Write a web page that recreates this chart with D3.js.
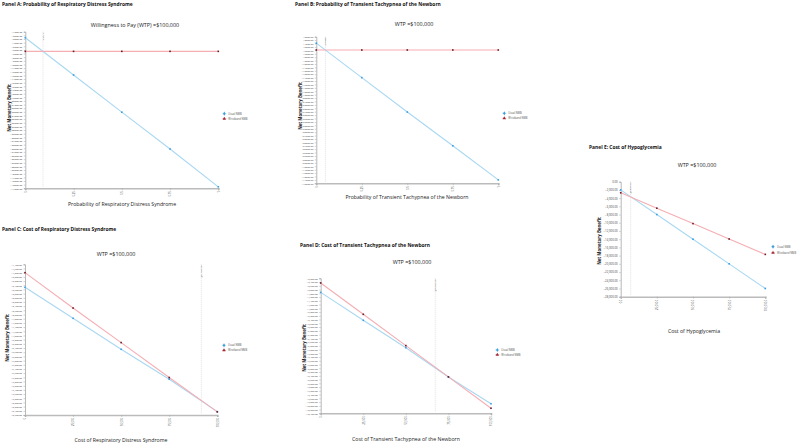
<!DOCTYPE html>
<html><head><meta charset="utf-8">
<script src="https://cdn.jsdelivr.net/npm/d3@7"></script>
<style>body{margin:0;background:#fff}svg{display:block}text{font-family:"Open Sans",Arial,sans-serif}</style>
</head><body><svg id="c" width="800" height="444"></svg>
<script>
// ---------- data ----------
const seriesNames = ["Usual NMB", "Wristband NMB"];
const probTicks = [0, 0.25, 0.5, 0.75, 1];
const probTickLabels = ["0", "0.25", "0.5", "0.75", "1"];
const costTicks = [0, 25000, 50000, 75000, 100000];
const costTickLabels = ["0", "25,000", "50,000", "75,000", "100,000"];
const costTickLabelsE = ["0.0", "25,000.0", "50,000.0", "75,000.0", "100,000.0"];

const titles = ["Panel A: Probability of Respiratory Distress Syndrome",
  "Panel B: Probability of Transient Tachypnea of the Newborn",
  "Panel C: Cost of Respiratory Distress Syndrome",
  "Panel D: Cost of Transient Tachypnea of the Newborn",
  "Panel E: Cost of Hypoglycemia"];
const subtitles = ["Willingness to Pay (WTP) =$100,000", "WTP =$100,000", "WTP =$100,000", "WTP =$100,000", "WTP =$100,000"];
const xLabels = ["Probability of Respiratory Distress Syndrome",
  "Probability of Transient Tachypnea of the Newborn",
  "Cost of Respiratory Distress Syndrome",
  "Cost of Transient Tachypnea of the Newborn",
  "Cost of Hypoglycemia"];
const yLabel = "Net Monetary Benefit";

const aUsual = [-2650, -12900, -23100, -33200, -43600];
const aWrist = [-6400, -6400, -6400, -6400, -6400];
const aThreshold = 0.0916;
const aThresholdLabel = "0.0916";
const aYTicks = d3.range(-1000, -44001, -1000);

const bUsual = [-3900, -14000, -24100, -34000, -44000];
const bWrist = [-5900, -5900, -5900, -5900, -5900];
const bThreshold = 0.05;
const bThresholdLabel = "0.0499";
const bYTicks = d3.range(-2000, -45001, -1000);

const cUsual = [-2500, -3980, -5460, -6890, -8440];
const cWrist = [-1800, -3490, -5140, -6810, -8450];
const cThreshold = 91700;
const cThresholdLabel = "$91,667.00";
const cYTicks = d3.range(-1400, -8601, -200);

const dUsual = [-3950, -5440, -6900, -8460, -9890];
const dWrist = [-3450, -5120, -6790, -8460, -10130];
const dThreshold = 67300;
const dThresholdLabel = "$67,567.00";
const dYTicks = d3.range(-3200, -10401, -200);

const eUsual = [-2000, -8000, -14000, -20000, -26000];
const eWrist = [-2700, -6450, -10200, -13950, -17700];
const eThreshold = 6900;
const eThresholdLabel = "$6,900.00";
const eYTicks = d3.range(0, -28001, -2000);

// ---------- drawing ----------
const svg = d3.select("#c");
const BLUE_LINE = "#a9d8f2", BLUE_PT = "#3b9ee0", RED_LINE = "#f5aeb3", RED_PT = "#6b1a24";
const fmtPlain = d3.format(".2f");
const fmtComma = d3.format(",.2f");

function panel(cfg) {
  const g = svg.append("g");
  const x = d3.scaleLinear().domain([cfg.xTicks[0], cfg.xTicks[cfg.xTicks.length - 1]]).range([cfg.l, cfg.r]);
  const y = d3.scaleLinear().domain([cfg.yTicks[0], cfg.yTicks[cfg.yTicks.length - 1]]).range([cfg.t, cfg.b]);

  g.append("text").attr("x", cfg.titleX).attr("y", cfg.titleY).attr("font-size", 4.9).attr("font-weight", "bold").attr("fill", "#111").text(cfg.title);
  g.append("text").attr("x", cfg.subX).attr("y", cfg.subY).attr("font-size", 5.4).attr("text-anchor", "middle").attr("fill", "#222").text(cfg.subtitle);

  const ya = d3.axisLeft(y).tickValues(cfg.yTicks).tickSize(1.5).tickPadding(1.5).tickFormat(cfg.yFmt);
  const yg = g.append("g").attr("transform", `translate(${cfg.l},0)`).call(ya);
  yg.select(".domain").attr("stroke", "#888").attr("stroke-width", 0.6);
  yg.selectAll(".tick line").attr("stroke", "#888").attr("stroke-width", 0.4);
  yg.selectAll(".tick text").attr("font-size", cfg.yFont).attr("fill", "#444").attr("font-family", "Open Sans, Arial");

  const xa = d3.axisBottom(x).tickValues(cfg.xTicks).tickSize(2).tickFormat((d, i) => cfg.xTickLabels[i]);
  const xg = g.append("g").attr("transform", `translate(0,${cfg.b})`).call(xa);
  xg.select(".domain").attr("stroke", "#bbb").attr("stroke-width", 1.6);
  xg.selectAll(".tick line").attr("stroke", "#999").attr("stroke-width", 0.4);
  xg.selectAll(".tick text").attr("font-size", 2.6).attr("fill", "#444")
    .attr("transform", "rotate(-90)").attr("text-anchor", "end").attr("dy", "0.35em").attr("x", -3).attr("y", 0);

  g.append("text").attr("x", cfg.xLabelX).attr("y", cfg.xLabelY).attr("font-size", 5.2).attr("text-anchor", "middle").attr("fill", "#222").text(cfg.xLabel);
  g.append("text").attr("transform", `translate(${cfg.yLabelX},${cfg.yLabelY}) rotate(-90)`).attr("font-size", 4.4).attr("font-weight", "bold").attr("text-anchor", "middle").attr("fill", "#222").text(yLabel);

  const tx = x(cfg.threshold);
  g.append("line").attr("x1", tx).attr("x2", tx).attr("y1", cfg.t).attr("y2", cfg.b - 1).attr("stroke", "#ccc").attr("stroke-width", 0.6).attr("stroke-dasharray", "1,1");
  g.append("text").attr("transform", `translate(${tx + 0.8},${cfg.t + 1}) rotate(-90)`).attr("font-size", 2.4).attr("text-anchor", "end").attr("fill", "#555").text(cfg.thresholdLabel);

  const line = d3.line().x((d, i) => x(cfg.xTicks[i])).y(d => y(d));
  const order = [[cfg.usual, BLUE_LINE, BLUE_PT], [cfg.wrist, RED_LINE, RED_PT]];
  order.forEach(([vals, lc]) => {
    g.append("path").datum(vals).attr("d", line).attr("fill", "none").attr("stroke", lc).attr("stroke-width", 1.1);
  });
  order.forEach(([vals, lc, pc]) => {
    g.selectAll(null).data(vals).enter().append("rect")
      .attr("x", (d, i) => x(cfg.xTicks[i]) - 0.8).attr("y", d => y(d) - 0.8)
      .attr("width", 1.6).attr("height", 1.6).attr("fill", pc);
  });

  const lg = g.append("g").attr("transform", `translate(${cfg.legX},${cfg.legY})`);
  lg.append("line").attr("x1", -2).attr("x2", 2).attr("y1", 0).attr("y2", 0).attr("stroke", BLUE_LINE).attr("stroke-width", 1);
  lg.append("path").attr("d", d3.symbol(d3.symbolDiamond, 5)()).attr("fill", BLUE_PT);
  lg.append("text").attr("x", 4).attr("y", 0).attr("dy", "0.35em").attr("font-size", 2.6).attr("fill", "#555").text(seriesNames[0]);
  lg.append("line").attr("x1", -2).attr("x2", 2).attr("y1", cfg.legGap).attr("y2", cfg.legGap).attr("stroke", RED_LINE).attr("stroke-width", 1);
  lg.append("path").attr("transform", `translate(0,${cfg.legGap})`).attr("d", d3.symbol(d3.symbolTriangle, 5)()).attr("fill", "#9c2a3a");
  lg.append("text").attr("x", 4).attr("y", cfg.legGap).attr("dy", "0.35em").attr("font-size", 2.6).attr("fill", "#555").text(seriesNames[1]);
}

panel({title: titles[0], titleX: 2, titleY: 6, subtitle: subtitles[0], subX: 135, subY: 27,
  l: 25.3, r: 218.3, t: 31.7, b: 188.3, xTicks: probTicks, xTickLabels: probTickLabels,
  yTicks: aYTicks, yFmt: fmtPlain, yFont: 2.5, usual: aUsual, wrist: aWrist,
  threshold: aThreshold, thresholdLabel: aThresholdLabel,
  xLabel: xLabels[0], xLabelX: 122, xLabelY: 206, yLabelX: 11, yLabelY: 108,
  legX: 224.3, legY: 113.7, legGap: 5});

panel({title: titles[1], titleX: 295, titleY: 6, subtitle: subtitles[1], subX: 414, subY: 26,
  l: 316.3, r: 498.3, t: 36.7, b: 183.3, xTicks: probTicks, xTickLabels: probTickLabels,
  yTicks: bYTicks, yFmt: fmtPlain, yFont: 2.4, usual: bUsual, wrist: bWrist,
  threshold: bThreshold, thresholdLabel: bThresholdLabel,
  xLabel: xLabels[1], xLabelX: 407, xLabelY: 199, yLabelX: 302, yLabelY: 106,
  legX: 504.3, legY: 113.3, legGap: 5});

panel({title: titles[2], titleX: 2, titleY: 231, subtitle: subtitles[2], subX: 116, subY: 256,
  l: 25, r: 217.3, t: 264.3, b: 415, xTicks: costTicks, xTickLabels: costTickLabels,
  yTicks: cYTicks, yFmt: fmtComma, yFont: 2.4, usual: cUsual, wrist: cWrist,
  threshold: cThreshold, thresholdLabel: cThresholdLabel,
  xLabel: xLabels[2], xLabelX: 121, xLabelY: 442, yLabelX: 8.5, yLabelY: 338,
  legX: 224, legY: 345.3, legGap: 5});

panel({title: titles[3], titleX: 300, titleY: 246.5, subtitle: subtitles[3], subX: 412, subY: 264,
  l: 320.7, r: 491, t: 278.3, b: 413.3, xTicks: costTicks, xTickLabels: costTickLabels,
  yTicks: dYTicks, yFmt: fmtComma, yFont: 2.4, usual: dUsual, wrist: dWrist,
  threshold: dThreshold, thresholdLabel: dThresholdLabel,
  xLabel: xLabels[3], xLabelX: 406, xLabelY: 440.5, yLabelX: 305.5, yLabelY: 348,
  legX: 497.3, legY: 350, legGap: 4.7});

panel({title: titles[4], titleX: 589, titleY: 148.5, subtitle: subtitles[4], subX: 697, subY: 166.5,
  l: 620.7, r: 765.3, t: 181.7, b: 296.7, xTicks: costTicks, xTickLabels: costTickLabelsE,
  yTicks: eYTicks, yFmt: fmtComma, yFont: 2.8, usual: eUsual, wrist: eWrist,
  threshold: eThreshold, thresholdLabel: eThresholdLabel,
  xLabel: xLabels[4], xLabelX: 694, xLabelY: 333, yLabelX: 600.5, yLabelY: 241,
  legX: 773, legY: 246.7, legGap: 6});
</script></body></html>
